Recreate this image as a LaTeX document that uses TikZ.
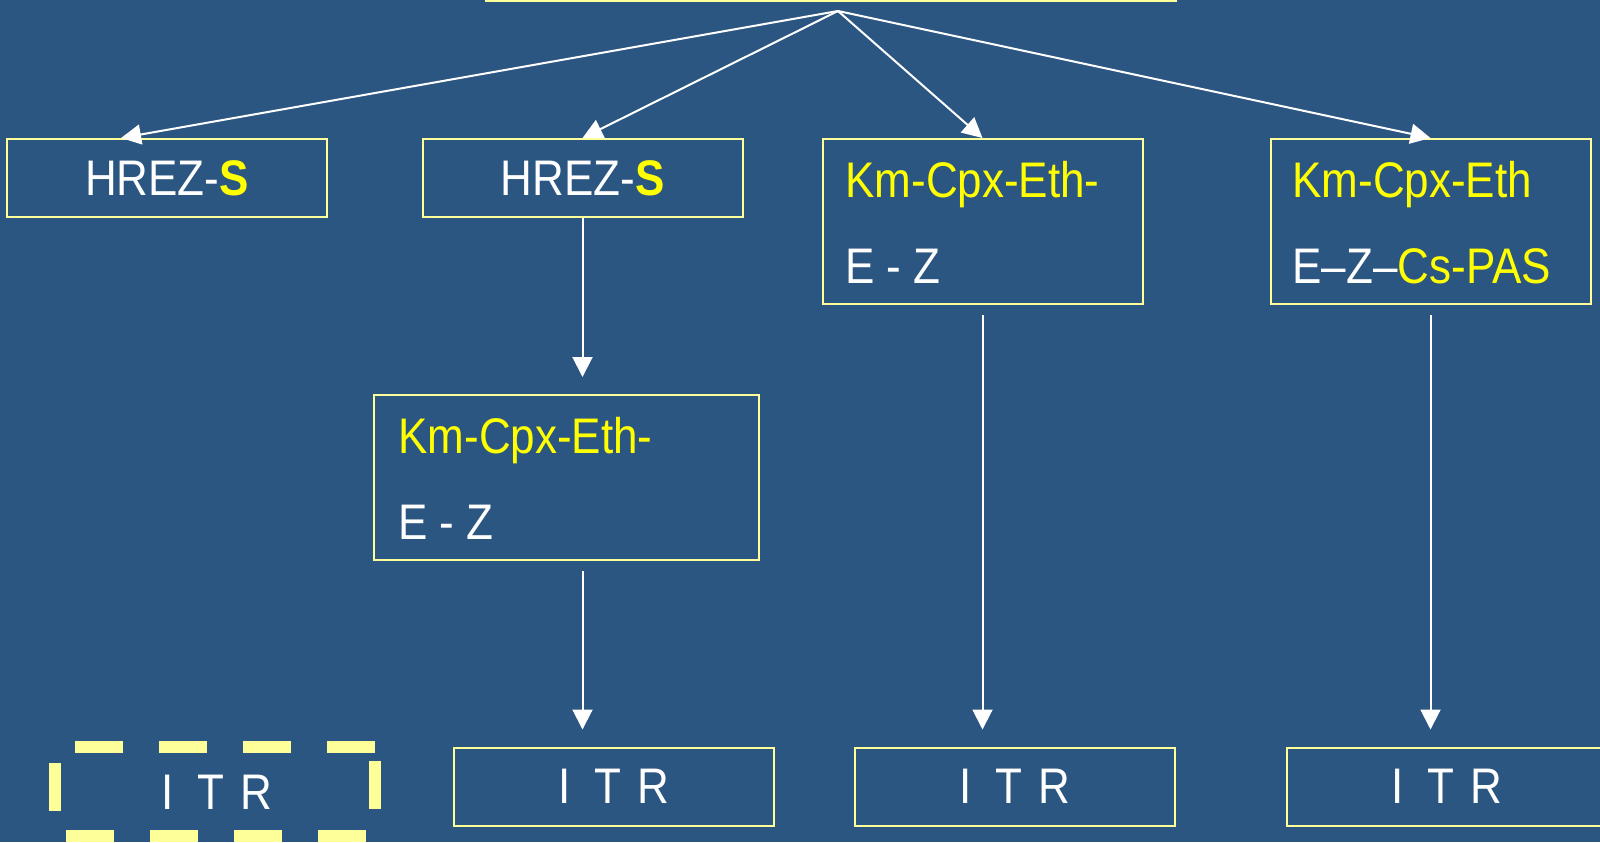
\documentclass[tikz,border=0pt]{standalone}
\usepackage{fontspec}
\setmainfont[FakeStretch=0.88]{Liberation Sans}
\usetikzlibrary{arrows.meta}
\definecolor{bg}{RGB}{44,86,130}
\definecolor{edge}{RGB}{255,255,153}
\definecolor{ytext}{RGB}{255,255,0}
\newcommand{\itrtext}{I\hspace{0.48em}T\hspace{0.32em}R}
\begin{document}
\begin{tikzpicture}[x=0.5pt,y=-0.5pt,
  box/.style={draw=edge, line width=1pt, fill=bg, minimum width=160pt, minimum height=39pt, inner sep=0pt, text=white, font=\fontsize{25}{29}\selectfont},
  tallbox/.style={box, minimum height=82.5pt},
  lbl/.style={text=white, font=\fontsize{25}{29}\selectfont, inner sep=0pt, anchor=base west},
  ylbl/.style={lbl, text=ytext},
  arr/.style={draw=white, line width=1pt, -{Triangle[length=10pt,width=10pt]}},
  dashside/.style={draw=edge, line width=6pt, dash pattern=on 24pt off 18pt}]
\useasboundingbox (0,0) rectangle (1600,842);
\fill[bg] (0,0) rectangle (1600,842);
% top box (only bottom edge visible)
\node[box, minimum width=345pt, minimum height=60pt, anchor=south] (top) at (831,1.5) {};
\coordinate (apex) at (838,11);
% second row
\node[box] (A) at (167,178) {HREZ-\textbf{\textcolor{ytext}{S}}};
\node[box] (B) at (582.5,178) {HREZ-\textbf{\textcolor{ytext}{S}}};
\node[tallbox] (C) at (982.5,221.5) {};
\node[ylbl] (c1) at (845,197) {Km-Cpx-Eth-};
\node[lbl] (c2) at (845,283) {E - Z};
\node[tallbox] (D) at (1430.5,221.5) {};
\node[ylbl] (d1) at (1292,197) {Km-Cpx-Eth};
\node[lbl] (d2) at (1292,283) {E–Z–\textcolor{ytext}{Cs-PAS}};
% third row
\node[tallbox, minimum width=192.5pt] (E) at (566.5,477.5) {};
\node[ylbl] (e1) at (398,453) {Km-Cpx-Eth-};
\node[lbl] (e2) at (398,539) {E - Z};
% bottom row
\node[box] (G) at (614,786.5) {\itrtext};
\node[box] (H) at (1015,786.5) {\itrtext};
\node[box] (I) at (1447,786.5) {\itrtext};
\node[text=white, font=\fontsize{25}{29}\selectfont, inner sep=0pt] (F) at (216.5,792) {\itrtext};
\draw[dashside] (75,746.5) -- (375,746.5);
\draw[dashside] (66,836) -- (366,836);
\draw[dashside] (55,763) -- (55,811);
\draw[dashside] (375,761) -- (375,809);
% connectors
\draw[arr] (apex) -- ([xshift=-23pt]A.north);
\draw[arr] (apex) -- (B.north);
\draw[arr] (apex) -- (C.north);
\draw[arr] (apex) -- (D.north);
\draw[arr, shorten >=8.5pt] (B.south) -- (E.north -| B.south);
\draw[arr, shorten <=5pt, shorten >=8.5pt] (E.south -| B.south) -- (G.north -| B.south);
\draw[arr, shorten <=5pt, shorten >=8.5pt] (C.south) -- (H.north -| C.south);
\draw[arr, shorten <=5pt, shorten >=8.5pt] (D.south) -- (I.north -| D.south);
\end{tikzpicture}
\end{document}
